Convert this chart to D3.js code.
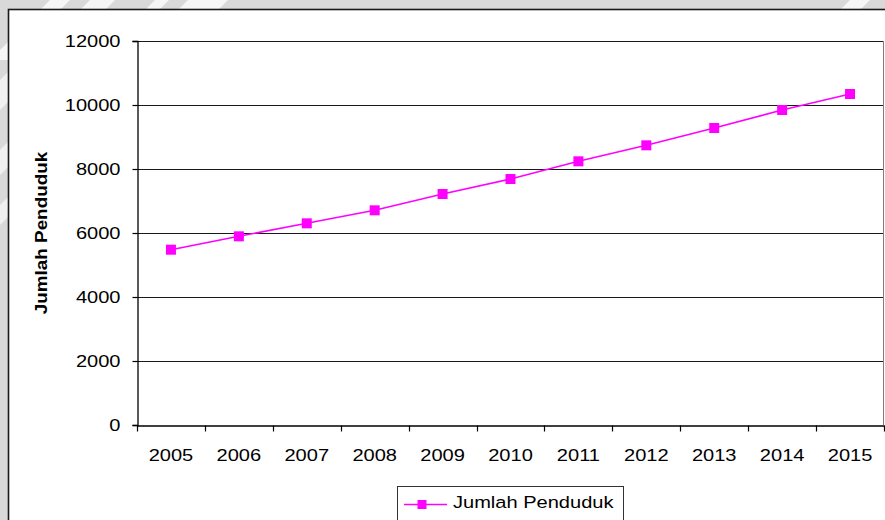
<!DOCTYPE html>
<html>
<head>
<meta charset="utf-8">
<script src="https://cdn.jsdelivr.net/npm/d3@7"></script>
<style>
  html, body { margin: 0; padding: 0; background: #d9d9d9; }
  svg { display: block; font-family: "Liberation Sans", Arial, sans-serif; }
</style>
</head>
<body>
<svg id="chart" width="885" height="520"></svg>
<script>
// Population per year
const years = ["2005", "2006", "2007", "2008", "2009", "2010", "2011", "2012", "2013", "2014", "2015"];
const population = [5478, 5896, 6302, 6709, 7219, 7687, 8240, 8740, 9281, 9844, 10344];
const yTicks = [0, 2000, 4000, 6000, 8000, 10000, 12000];
const seriesName = "Jumlah Penduduk";
const axisTitle = "Jumlah Penduduk";

const W = 885, H = 520;
const plot = { left: 137, right: 884, top: 41, bottom: 425 };
const stretch = 1.18;   // text is drawn slightly wide
const magenta = "#ff00ff";

const svg = d3.select("#chart");

// page backdrop with faint diagonal bands
svg.append("rect").attr("width", W).attr("height", H).attr("fill", "#d9d9d9");
const bands = [[-10, 20], [30, 25], [95, 14], [128, 40], [790, 20], [838, 26]];
svg.append("g").selectAll("path").data(bands).join("path")
  .attr("d", d => `M${d[0]},60 L${d[0] + 60},0 L${d[0] + 60 + d[1]},0 L${d[0] + d[1]},60 Z`)
  .attr("fill", "#ffffff").attr("opacity", 0.75);
svg.append("g").selectAll("path").data([[40, 30], [110, 25], [165, 20]]).join("path")
  .attr("d", d => `M0,${d[0] + 40} L40,${d[0]} L40,${d[0] + d[1]} L0,${d[0] + d[1] + 40} Z`)
  .attr("fill", "#ffffff").attr("opacity", 0.6);

// chart area
svg.append("rect")
  .attr("x", 8.5).attr("y", 9.5).attr("width", W + 10).attr("height", H + 10)
  .attr("fill", "#fff").attr("stroke", "#1a1a1a").attr("stroke-width", 1.6);

const x = d3.scaleBand().domain(years).range([plot.left, plot.right]);
const y = d3.scaleLinear().domain([0, 12000]).range([plot.bottom, plot.top]);

// gridlines
svg.append("g").selectAll("line").data(yTicks.filter(v => v > 0)).join("line")
  .attr("x1", plot.left).attr("x2", plot.right)
  .attr("y1", d => Math.round(y(d)) + 0.5).attr("y2", d => Math.round(y(d)) + 0.5)
  .attr("stroke", "#1a1a1a").attr("stroke-width", 1.2);

// right border of plot area
svg.append("line")
  .attr("x1", plot.right - 0.5).attr("x2", plot.right - 0.5)
  .attr("y1", plot.top).attr("y2", plot.bottom)
  .attr("stroke", "#808080").attr("stroke-width", 1);

// y axis
const yAxis = svg.append("g")
  .attr("transform", `translate(${plot.left + 0.5},0)`)
  .call(d3.axisLeft(y).tickValues(yTicks).tickSize(5).tickPadding(0).tickFormat(d3.format("d")));
yAxis.select(".domain").attr("stroke", "#000").attr("stroke-width", 1.3);
yAxis.selectAll(".tick line").attr("stroke", "#000").attr("stroke-width", 1.2);
yAxis.selectAll(".tick text")
  .attr("x", 0).attr("dy", "0.35em")
  .attr("transform", `translate(-17,0) scale(${stretch},1)`)
  .attr("font-size", 17).attr("fill", "#000");

// x axis with ticks on category boundaries
const xAxis = svg.append("g")
  .attr("transform", `translate(0,${plot.bottom + 0.5})`)
  .call(d3.axisBottom(x).tickSize(0).tickPadding(0));
xAxis.select(".domain").attr("stroke", "#000").attr("stroke-width", 1.3);
xAxis.selectAll(".tick text")
  .attr("y", 0).attr("dy", 0)
  .attr("transform", `translate(0,35) scale(${stretch},1)`)
  .attr("font-size", 17).attr("fill", "#000");
const boundaries = years.map(d => x(d)).concat([plot.right]);
xAxis.append("g").selectAll("line").data(boundaries).join("line")
  .attr("x1", d => Math.round(d) + 0.5).attr("x2", d => Math.round(d) + 0.5)
  .attr("y1", 0).attr("y2", 6)
  .attr("stroke", "#000").attr("stroke-width", 1.2);

// y axis title
svg.append("text")
  .attr("transform", `translate(47,${(plot.top + plot.bottom) / 2}) rotate(-90) scale(${stretch},1)`)
  .attr("text-anchor", "middle")
  .attr("font-size", 16).attr("font-weight", "bold").attr("fill", "#000")
  .text(axisTitle);

// series line and markers
const cx = (d, i) => x(years[i]) + x.bandwidth() / 2;
const line = d3.line().x((d, i) => cx(d, i)).y(d => y(d));
svg.append("path").datum(population)
  .attr("d", line).attr("fill", "none")
  .attr("stroke", magenta).attr("stroke-width", 1.6);
const m = 10;
svg.append("g").selectAll("rect").data(population).join("rect")
  .attr("x", (d, i) => cx(d, i) - m / 2).attr("y", d => y(d) - m / 2)
  .attr("width", m).attr("height", m).attr("fill", magenta);

// legend
const legend = svg.append("g").attr("transform", "translate(397,486)");
legend.append("rect")
  .attr("x", 0.5).attr("y", 0.5).attr("width", 226).attr("height", 50)
  .attr("fill", "#fff").attr("stroke", "#333").attr("stroke-width", 1);
legend.append("line")
  .attr("x1", 7).attr("x2", 50).attr("y1", 18.5).attr("y2", 18.5)
  .attr("stroke", magenta).attr("stroke-width", 1.6);
legend.append("rect")
  .attr("x", 25 - 4.5).attr("y", 18.5 - 4.5).attr("width", 9).attr("height", 9)
  .attr("fill", magenta);
legend.append("text")
  .attr("transform", `translate(56,21.5) scale(${stretch},1)`)
  .attr("font-size", 17).attr("fill", "#000")
  .text(seriesName);
</script>
</body>
</html>
